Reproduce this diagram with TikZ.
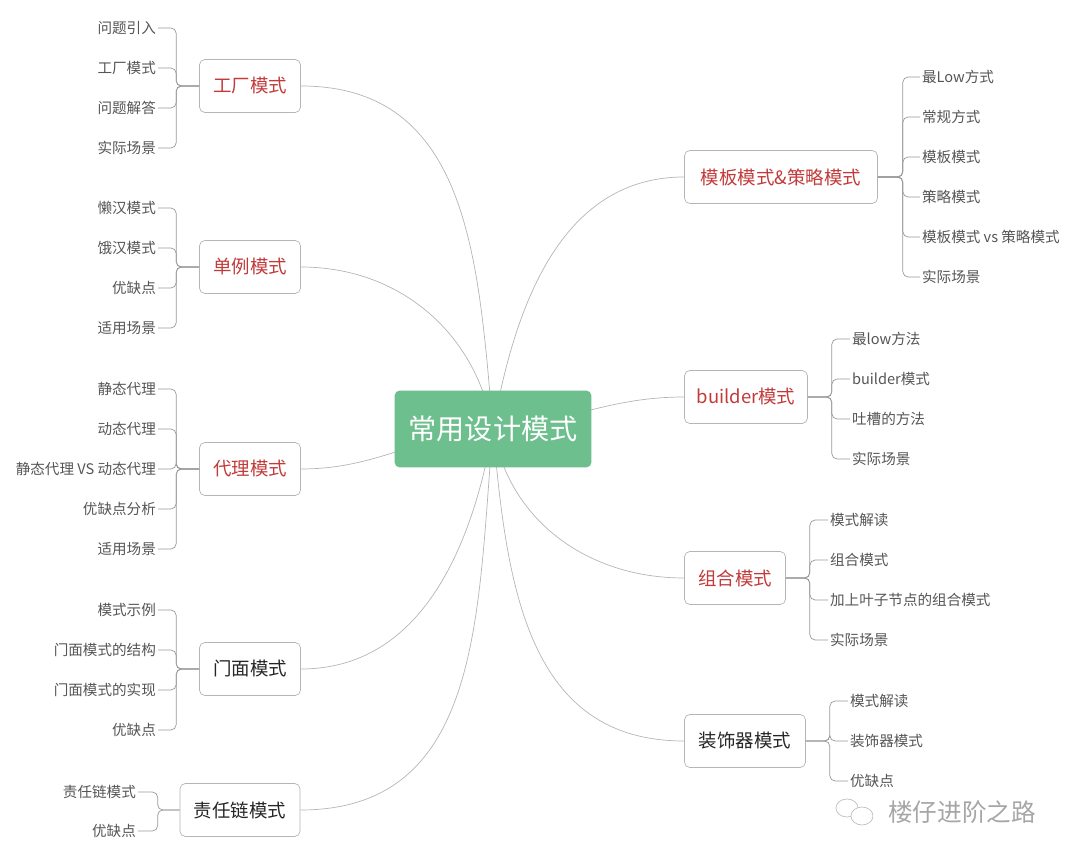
\documentclass[tikz,border=0pt]{standalone}
\usepackage{fontspec}
\setmainfont{Noto Sans CJK SC}
\usetikzlibrary{backgrounds}
\definecolor{rootgreen}{HTML}{6DBF8E}
\definecolor{topred}{HTML}{C23A3A}
\definecolor{leafgray}{HTML}{555555}
\definecolor{linegray}{HTML}{B5B5B5}
\tikzset{
  root/.style={draw=none,fill=rootgreen,rounded corners=3pt,text=white,font=\fontsize{16}{18}\selectfont,minimum width=3.94cm,minimum height=1.54cm},
  topic/.style={draw=linegray,fill=white,rounded corners=3pt,font=\fontsize{10.5}{12}\selectfont,minimum height=1.06cm,inner xsep=5pt},
  hot/.style={topic,text=topred},
  plain/.style={topic,text=black!85},
  leaf/.style={font=\fontsize{8.3}{10}\selectfont,text=leafgray,inner sep=1pt},
  link/.style={draw=linegray,thin},
  brk/.style={draw=gray!80,thin,rounded corners=3pt}
}
\begin{document}
\begin{tikzpicture}[x=0.02cm,y=-0.02cm]
    \useasboundingbox (0,0) rectangle (1080,861);
    % centre
    \node[root] (root) at (493,429) {常用设计模式};
    % left side
    \node[hot,minimum width=2.02cm] (gc) at (250,86) {工厂模式};
    \node[hot,minimum width=2.02cm] (dl) at (250,267) {单例模式};
    \node[hot,minimum width=2.02cm] (dai) at (250,469) {代理模式};
    \node[plain,minimum width=2.02cm] (mm) at (250,669) {门面模式};
    \node[plain,minimum width=2.4cm] (zr) at (240,810) {责任链模式};
    % right side
    \node[hot,minimum width=3.86cm] (mb) at (781,177) {模板模式\&策略模式};
    \node[hot,minimum width=2.46cm] (bd) at (746,397) {builder模式};
    \node[hot,minimum width=2.02cm] (zh) at (735,578) {组合模式};
    \node[plain,minimum width=2.42cm] (zs) at (745,741) {装饰器模式};
    % curves to root
    \begin{scope}[on background layer]
    \draw[link] (root.center) to[out=95,in=0,looseness=1.1] (gc.east);
    \draw[link] (root.center) to[out=100,in=0] (dl.east);
    \draw[link] (root.center) to[out=185,in=0] (dai.east);
    \draw[link] (root.center) to[out=-100,in=0] (mm.east);
    \draw[link] (root.center) to[out=-95,in=0,looseness=1.1] (zr.east);
    \draw[link] (root.center) to[out=80,in=180] (mb.west);
    \draw[link] (root.center) to[out=5,in=180] (bd.west);
    \draw[link] (root.center) to[out=-80,in=180] (zh.west);
    \draw[link] (root.center) to[out=-85,in=180,looseness=1.1] (zs.west);
    \end{scope}
    % leaves left
    \foreach \t [count=\n] in {问题引入,工厂模式,问题解答,实际场景}
      \node[leaf,anchor=east] (gc\n) at (158,{-12+40*\n}) {\t};
    \foreach \t [count=\n] in {懒汉模式,饿汉模式,优缺点,适用场景}
      \node[leaf,anchor=east] (dl\n) at (158,{168+40*\n}) {\t};
    \foreach \t [count=\n] in {静态代理,动态代理,静态代理 VS 动态代理,优缺点分析,适用场景}
      \node[leaf,anchor=east] (dai\n) at (158,{349+40*\n}) {\t};
    \foreach \t [count=\n] in {模式示例,门面模式的结构,门面模式的实现,优缺点}
      \node[leaf,anchor=east] (mm\n) at (158,{570+40*\n}) {\t};
    \foreach \t [count=\n] in {责任链模式,优缺点}
      \node[leaf,anchor=east] (zr\n) at (138,{753+39*\n}) {\t};
    % leaves right
    \foreach \t [count=\n] in {最Low方式,常规方式,模板模式,策略模式,模板模式 vs 策略模式,实际场景}
      \node[leaf,anchor=west] (mb\n) at (920,{37+40*\n}) {\t};
    \foreach \t [count=\n] in {最low方法,builder模式,吐槽的方法,实际场景}
      \node[leaf,anchor=west] (bd\n) at (850,{299+40*\n}) {\t};
    \foreach \t [count=\n] in {模式解读,组合模式,加上叶子节点的组合模式,实际场景}
      \node[leaf,anchor=west] (zh\n) at (828,{480+40*\n}) {\t};
    \foreach \t [count=\n] in {模式解读,装饰器模式,优缺点}
      \node[leaf,anchor=west] (zs\n) at (848,{661+40*\n}) {\t};
    % brackets
    \foreach \n in {1,...,4} \draw[brk] (gc.west) -- ++(-23,0) |- (gc\n.east);
    \foreach \n in {1,...,4} \draw[brk] (dl.west) -- ++(-23,0) |- (dl\n.east);
    \foreach \n in {1,...,5} \draw[brk] (dai.west) -- ++(-23,0) |- (dai\n.east);
    \foreach \n in {1,...,4} \draw[brk] (mm.west) -- ++(-23,0) |- (mm\n.east);
    \foreach \n in {1,2} \draw[brk] (zr.west) -- ++(-22,0) |- (zr\n.east);
    \foreach \n in {1,...,6} \draw[brk] (mb.east) -- ++(25,0) |- (mb\n.west);
    \foreach \n in {1,...,4} \draw[brk] (bd.east) -- ++(24,0) |- (bd\n.west);
    \foreach \n in {1,...,4} \draw[brk] (zh.east) -- ++(24,0) |- (zh\n.west);
    \foreach \n in {1,...,3} \draw[brk] (zs.east) -- ++(24,0) |- (zs\n.west);
    % watermark
    \node[font=\fontsize{14}{16}\selectfont,text=gray!70] (wm) at (962,812) {楼仔进阶之路};
    \draw[gray!50] (847,808) ellipse [x radius=11,y radius=9];
    \draw[gray!50,fill=white] (862,816) ellipse [x radius=11,y radius=9];
\end{tikzpicture}
\end{document}
